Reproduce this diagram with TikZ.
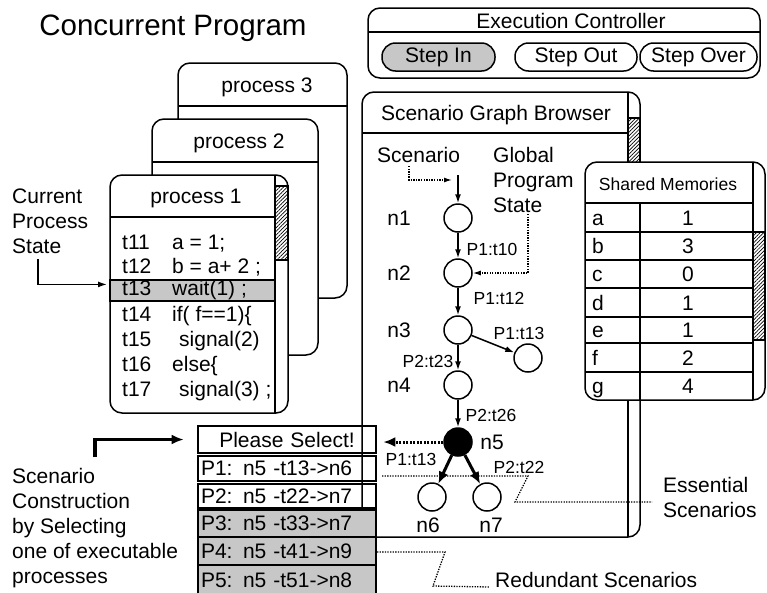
\documentclass[tikz,border=0pt]{standalone}
\usepackage{fontspec}
\setmainfont{Liberation Sans}
\usetikzlibrary{arrows.meta,patterns.meta}

\tikzset{
  win/.style={draw, line width=1.5pt, fill=white, rounded corners=12pt},
  divider/.style={line width=1.5pt},
  lbl/.style={font=\fontsize{21}{25}\selectfont, inner sep=0pt},
  edgelbl/.style={font=\fontsize{17.5}{20}\selectfont, inner sep=0pt},
  gnode/.style={circle, draw, line width=1.5pt, fill=white, minimum size=28pt, inner sep=0pt},
  hatched/.style={draw, line width=1.2pt, pattern={Lines[angle=45,distance=2.6pt,line width=0.7pt]}},
  greyed/.style={fill=black!22},
  btn/.style={draw, line width=1.5pt, rounded corners=13.5pt, minimum height=28pt, lbl},
  selbox/.style={draw, line width=2.6pt, minimum width=178pt, lbl, text width=172pt, align=left, inner xsep=3pt},
  arr/.style={line width=1.5pt, -{Latex[length=9pt,width=6pt]}},
  fatarr/.style={line width=3.5pt, -{Latex[length=12pt,width=10pt]}},
  dots/.style={line width=1.3pt, dash pattern=on 1.3pt off 1.3pt},
}

\begin{document}
\begin{tikzpicture}[x=1pt,y=-1pt]
    \useasboundingbox (0,0) rectangle (767,592);

    % Title
    \node[font=\fontsize{29.5}{32}\selectfont, inner sep=0pt] (title) at (173,28) {Concurrent Program};

    % Process windows, back to front
    \draw[win] (178,63) rectangle (347,298);
    \draw[divider] (178,106) -- (347,106);
    \node[lbl] (p3) at (267,87) {process 3};

    \draw[win] (152,119) rectangle (318,355);
    \draw[divider] (152,162) -- (318,162);
    \node[lbl] (p2) at (239,143) {process 2};

    \draw[win] (110,175) rectangle (288,413);
    \draw[hatched] (275,186) rectangle (288,260);
    \draw[divider] (275,175) -- (275,413);
    \draw[divider] (110,217) -- (275,217);
    \draw[divider, greyed] (110,280) rectangle (275,301);
    \node[lbl] (p1) at (196,198) {process 1};

    % Code of process 1
    \node[lbl, anchor=mid west] (t11) at (122,247) {t11};
    \node[lbl, anchor=mid west] (c11) at (172,247) {a = 1;};
    \node[lbl, anchor=mid west] (t12) at (122,271) {t12};
    \node[lbl, anchor=mid west] (c12) at (172,271) {b = a+ 2 ;};
    \node[lbl, anchor=mid west] (t13) at (122,293) {t13};
    \node[lbl, anchor=mid west] (c13) at (172,293) {wait(1) ;};
    \node[lbl, anchor=mid west] (t14) at (122,319) {t14};
    \node[lbl, anchor=mid west] (c14) at (172,319) {if( f==1)\{};
    \node[lbl, anchor=mid west] (t15) at (122,344) {t15};
    \node[lbl, anchor=mid west] (c15) at (179,344) {signal(2)};
    \node[lbl, anchor=mid west] (t16) at (122,369) {t16};
    \node[lbl, anchor=mid west] (c16) at (172,369) {else\{};
    \node[lbl, anchor=mid west] (t17) at (122,394) {t17};
    \node[lbl, anchor=mid west] (c17) at (179,394) {signal(3) ;};

    % Current process state
    \node[lbl, anchor=north west, align=left] (cps) at (12,189) {Current\\Process\\State};
    \coordinate (cpsA) at (38,259);
    \draw[arr] (cpsA) |- ([xshift=-15pt,yshift=4pt]t13.west);

    % Execution controller
    \draw[win] (368,8) rectangle (760,78);
    \draw[divider] (368,32) -- (760,32);
    \node[lbl] (ec) at (571,21) {Execution Controller};
    \node[btn, greyed, minimum width=113pt] (stepin) at (438.5,57) {Step In};
    \node[btn, minimum width=122pt] (stepout) at (576,57) {Step Out};
    \node[btn, minimum width=117pt] (stepover) at (698.5,57) {Step Over};

    % Scenario graph browser
    \draw[win] (362,92) rectangle (640,537);
    \draw[hatched] (628,118) rectangle (640,175);
    \draw[divider] (628,92) -- (628,537);
    \draw[divider] (362,133) -- (628,133);
    \node[lbl] (sgb) at (496,115) {Scenario Graph Browser};

    \node[lbl, anchor=base west] (scn) at (377,162) {Scenario};
    \node[lbl, anchor=north west, align=left] (gps) at (493,147) {Global\\Program\\State};

    % Shared memories
    \draw[win] (585,162) rectangle (765,400);
    \draw[hatched] (753,232) rectangle (765,340);
    \draw[divider] (753,162) -- (753,400);
    \draw[divider] (585,203) -- (753,203);
    \draw[divider] (585,232) -- (753,232);
    \draw[divider] (585,260) -- (753,260);
    \draw[divider] (585,288) -- (753,288);
    \draw[divider] (585,317) -- (753,317);
    \draw[divider] (585,343) -- (753,343);
    \draw[divider] (585,372) -- (753,372);
    \draw[divider] (640,203) -- (640,400);
    \node[edgelbl] (shm) at (668,184) {Shared Memories};
    \node[lbl, anchor=base west] (va) at (592,225) {a};
    \node[lbl, anchor=base] (xa) at (688,225) {1};
    \node[lbl, anchor=base west] (vb) at (592,253) {b};
    \node[lbl, anchor=base] (xb) at (688,253) {3};
    \node[lbl, anchor=base west] (vc) at (592,281) {c};
    \node[lbl, anchor=base] (xc) at (688,281) {0};
    \node[lbl, anchor=base west] (vd) at (592,310) {d};
    \node[lbl, anchor=base] (xd) at (688,310) {1};
    \node[lbl, anchor=base west] (ve) at (592,337) {e};
    \node[lbl, anchor=base] (xe) at (688,337) {1};
    \node[lbl, anchor=base west] (vf) at (592,365) {f};
    \node[lbl, anchor=base] (xf) at (688,365) {2};
    \node[lbl, anchor=base west] (vg) at (592,393) {g};
    \node[lbl, anchor=base] (xg) at (688,393) {4};

    % Selection list
    \node[selbox, align=center, minimum height=27pt] (sel0) at (287,439.5) {Please Select!};
    \node[selbox, minimum height=25pt] (sel1) at (287,468.5) {P1: n5 -t13->n6};
    \node[selbox, minimum height=24pt] (sel2) at (287,496) {P2: n5 -t22->n7};
    \node[selbox, greyed, minimum height=27pt] (sel3) at (287,523.5) {P3: n5 -t33->n7};
    \node[selbox, greyed, minimum height=28pt] (sel4) at (287,551) {P4: n5 -t41->n9};
    \node[selbox, greyed, minimum height=30pt] (sel5) at (287,580) {P5: n5 -t51->n8};

    % Scenario construction
    \node[lbl, anchor=north west, align=left] (scl) at (12,468) {Scenario\\Construction\\by Selecting\\one of executable\\processes};
    \coordinate (sclA) at (95,457);
    \draw[fatarr] (sclA) |- ([xshift=-13pt]sel0.west);

    % Essential and redundant scenarios
    \node[lbl, anchor=north west, align=left] (ess) at (663,477) {Essential\\Scenarios};
    \node[lbl, anchor=base west] (red) at (495,587) {Redundant Scenarios};
    \coordinate (essA) at (382,476);
    \coordinate (essB) at (652,502);
    \draw[dots] (essA) -- (528,476) -- (515,502) -- (essB);
    \coordinate (redA) at (377,552);
    \draw[dots] (redA) -- (445,552) -- (433,586) -- ([xshift=-5pt]red.base west);

    % Scenario graph
    \node[gnode] (n1) at (458,218) {};
    \node[gnode] (n2) at (458,273) {};
    \node[gnode] (n3) at (458,330) {};
    \node[gnode] (n3x) at (528,358) {};
    \node[gnode] (n4) at (458,385) {};
    \node[gnode, fill=black] (n5) at (458,442) {};
    \node[gnode] (n6) at (432,497) {};
    \node[gnode] (n7) at (487,497) {};

    \node[lbl] (ln1) at (399,218) {n1};
    \node[lbl] (ln2) at (399,273) {n2};
    \node[lbl] (ln3) at (399,330) {n3};
    \node[lbl] (ln4) at (399,385) {n4};
    \node[lbl] (ln5) at (492,442) {n5};
    \node[lbl] (ln6) at (428,525) {n6};
    \node[lbl] (ln7) at (491,525) {n7};

    \node[edgelbl] (e12) at (492,249) {P1:t10};
    \node[edgelbl] (e23) at (499,298) {P1:t12};
    \node[edgelbl] (e33) at (519,333) {P1:t13};
    \node[edgelbl] (e34) at (428,361) {P2:t23};
    \node[edgelbl] (e45) at (491,415) {P2:t26};
    \node[edgelbl] (e56) at (411,459) {P1:t13};
    \node[edgelbl] (e57) at (519,467) {P2:t22};

    \coordinate (entry) at (458,175);
    \draw[arr] (entry) -- (n1);
    \draw[arr] (n1) -- (n2);
    \draw[arr] (n2) -- (n3);
    \draw[arr] (n3) -- (n4);
    \draw[arr] (n3) -- (n3x);
    \draw[arr] (n4) -- (n5);
    \draw[fatarr, line width=3pt] (n5) -- (n6);
    \draw[fatarr, line width=3pt] (n5) -- (n7);
    \draw[fatarr, line width=3pt, dash pattern=on 2pt off 1.5pt, shorten >=6pt] (n5.west) -- (n5.west -| sel0.east);

    % Dotted pointers
    \coordinate (scnA) at (409,166);
    \coordinate (scnB) at (452,180);
    \draw[dots, -{Latex[length=8pt,width=5pt]}] (scnA) |- (scnB);
    \coordinate (gpsA) at (528,214);
    \draw[dots, -{Latex[length=8pt,width=5pt]}] (gpsA) |- (n2.east);
\end{tikzpicture}
\end{document}
